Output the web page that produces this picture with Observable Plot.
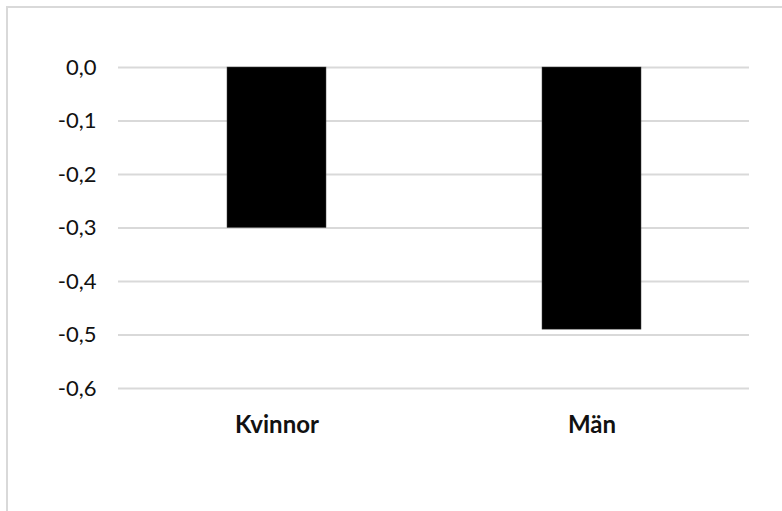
<!DOCTYPE html>
<html>
<head>
<meta charset="utf-8">
<script src="https://cdn.jsdelivr.net/npm/d3@7"></script>
<script src="https://cdn.jsdelivr.net/npm/@observablehq/plot@0.6"></script>
<style>
  html, body { margin: 0; padding: 0; background: #fff; overflow: hidden; }
  #wrap { position: relative; width: 782px; height: 511px; }
  #border { position: absolute; left: 6px; top: 6px; width: 800px; height: 520px; border: 2px solid #d9d9d9; box-sizing: border-box; pointer-events: none; }
  svg text { fill: #111; }
</style>
</head>
<body>
<div id="wrap"><div id="border"></div></div>
<script>
const categories = ["Kvinnor", "Män"];
const values = [-0.30, -0.49];
const yTicks = [0, -0.1, -0.2, -0.3, -0.4, -0.5, -0.6];

const data = categories.map((c, i) => ({category: c, value: values[i]}));
const fmt = v => (Math.abs(v) < 1e-9 ? 0 : v).toFixed(1).replace(".", ",");

const chart = Plot.plot({
  width: 782,
  height: 511,
  marginLeft: 118,
  marginRight: 33,
  marginTop: 67,
  marginBottom: 123,
  style: {background: "transparent", fontFamily: "Lato, sans-serif", color: "#111"},
  x: {domain: categories, paddingInner: 0.686, paddingOuter: 0.343, label: null},
  y: {domain: [-0.6, 0], label: null},
  marks: [
    Plot.gridY(yTicks, {stroke: "#d9d9d9", strokeOpacity: 1, strokeWidth: 2}),
    Plot.barY(data, {x: "category", y1: 0, y2: "value", fill: "#000", stroke: "#444", strokeWidth: 0.5}),
    Plot.axisY(yTicks, {tickSize: 0, tickPadding: 22, tickFormat: fmt, fontSize: 22, label: null}),
    Plot.axisX({tickSize: 0, tickPadding: 27, fontSize: 24, fontWeight: "bold", label: null})
  ]
});
document.getElementById("wrap").prepend(chart);
</script>
</body>
</html>
